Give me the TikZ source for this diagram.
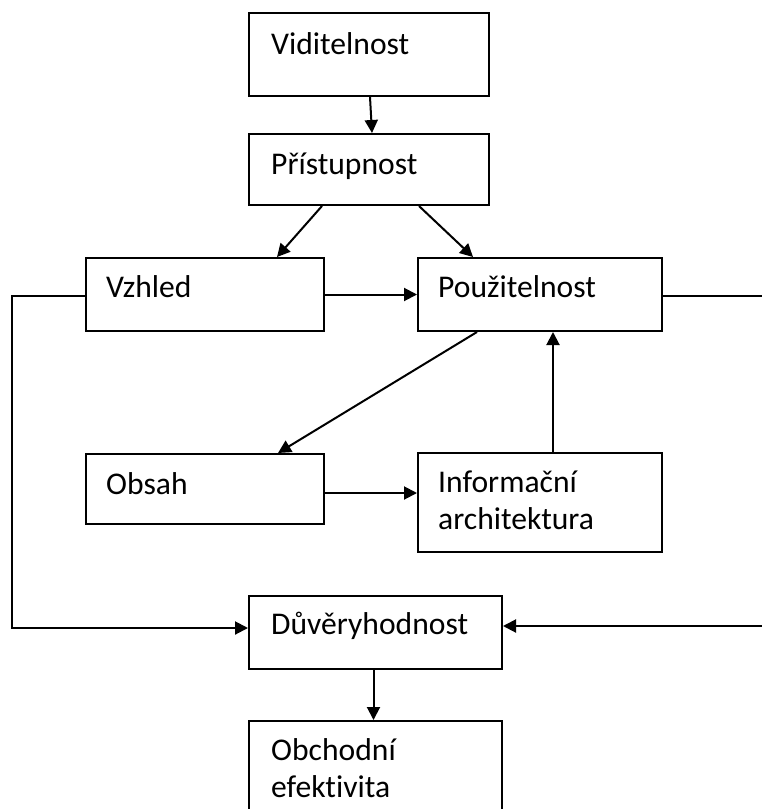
\documentclass[tikz,border=0pt]{standalone}
\usepackage{fontspec}
\setmainfont{Carlito}[Ligatures={NoCommon}]
\usetikzlibrary{arrows.meta}
\begin{document}
\begin{tikzpicture}[x=1pt,y=-1pt,
  box/.style={draw, line width=2pt, rectangle, inner sep=0pt},
  txt/.style={anchor=base west, inner sep=0pt, align=left,
    font=\fontsize{31.6}{37}\selectfont},
  arr/.style={line width=2pt, -{Triangle[length=13pt,width=13pt]}}]
\useasboundingbox (0,0) rectangle (762,809);
\fill[white] (0,0) rectangle (762,809);
\clip (0,0) rectangle (762,809);
% boxes
\node[box, minimum width=240, minimum height=83] (vid) at (369,54.5) {};
\node[box, minimum width=240, minimum height=71] (pri) at (369,169.5) {};
\node[box, minimum width=238, minimum height=73] (vzh) at (205,294.5) {};
\node[box, minimum width=244, minimum height=73] (pou) at (540,294.5) {};
\node[box, minimum width=238, minimum height=70] (obs) at (205,489) {};
\node[box, minimum width=244, minimum height=99] (inf) at (540,502.5) {};
\node[box, minimum width=253, minimum height=73] (duv) at (375.5,632.5) {};
\node[box, minimum width=253, minimum height=100] (obc) at (375.5,771) {};
% texts
\node[txt] (tvid) at ([xshift=23pt,yshift=-42pt]vid.north west) {Viditelnost};
\node[txt] (tpri) at ([xshift=23pt,yshift=-41pt]pri.north west) {Přístupnost};
\node[txt] (tvzh) at ([xshift=21pt,yshift=-40pt]vzh.north west) {Vzhled};
\node[txt] (tpou) at ([xshift=21pt,yshift=-40pt]pou.north west) {Použitelnost};
\node[txt] (tobs) at ([xshift=21pt,yshift=-41pt]obs.north west) {Obsah};
\node[txt] (tinf) at ([xshift=21pt,yshift=-77pt]inf.north west) {Informační\\architektura};
\node[txt] (tduv) at ([xshift=23pt,yshift=-39pt]duv.north west) {Důvěryhodnost};
\node[txt] (tobc) at ([xshift=23pt,yshift=-77pt]obc.north west) {Obchodní\\efektivita};
% connectors
\draw[arr] ([xshift=1pt]vid.south) -- ([xshift=3pt]pri.north);
\draw[arr] (pri.south west) ++(74,0) coordinate (p1) -- (vzh.north west -| 277,0);
\draw[arr] (pri.south west) ++(171,0) coordinate (p2) -- (pou.north west -| 473,0);
\draw[arr] (vzh.east) -- (pou.west);
\draw[arr] (pou.south west) ++(60,0) coordinate (p3) -- (obs.north west -| 278,0);
\draw[arr] (obs.east |- 0,493) -- (inf.west |- 0,493);
\draw[arr] (inf.north -| 553,0) -- (pou.south -| 553,0);
\draw[arr] ([xshift=-2pt]duv.south) -- ([xshift=-2pt]obc.north);
\coordinate (lc1) at (12,296);
\coordinate (lc2) at (12,628);
\draw[arr] (vzh.west |- lc1) -- (lc1) -- (lc2) -- (duv.west |- lc2);
\coordinate (rc1) at (780,296);
\coordinate (rc2) at (780,626);
\draw[arr] (pou.east |- rc1) -- (rc1) -- (rc2) -- (duv.east |- rc2);
\end{tikzpicture}
\end{document}
